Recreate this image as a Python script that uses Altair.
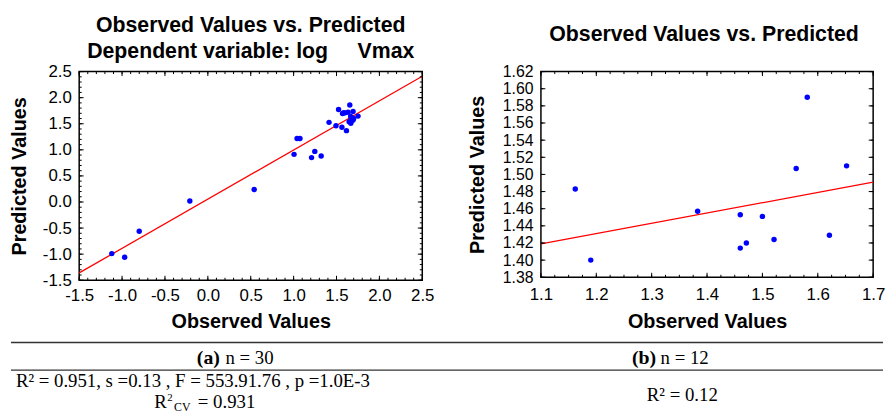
import altair as alt
import pandas as pd

# ---- panel (a) data ----
obs_a = [-1.12, -0.97, -0.80, -0.21, 0.54, 1.005, 1.04, 1.074, 1.209, 1.247,
         1.321, 1.413, 1.494, 1.524, 1.563, 1.57, 1.601, 1.616, 1.635, 1.647,
         1.655, 1.665, 1.667, 1.678, 1.693, 1.693, 1.70, 1.66, 1.751, 1.585]
pred_a = [-0.99, -1.06, -0.56, 0.02, 0.24, 0.913, 1.217, 1.217, 0.851, 0.970,
          0.883, 1.527, 1.463, 1.774, 1.433, 1.698, 1.709, 1.368, 1.72, 1.539,
          1.861, 1.64, 1.509, 1.558, 1.736, 1.571, 1.60, 1.55, 1.647, 1.71]
fit_a_x = [-1.5, 2.5]
fit_a_y = [-1.36, 2.41]

# ---- panel (b) data ----
obs_b = [1.162, 1.19, 1.383, 1.46, 1.46, 1.471, 1.50, 1.521, 1.561, 1.581, 1.621, 1.652]
pred_b = [1.483, 1.400, 1.457, 1.453, 1.414, 1.420, 1.451, 1.424, 1.507, 1.590, 1.429, 1.510]
fit_b_x = [1.1, 1.7]
fit_b_y = [1.419, 1.491]

# ---- tick labels ----
a_ticks = [-1.5, -1.0, -0.5, 0.0, 0.5, 1.0, 1.5, 2.0, 2.5]
a_minor = [round(-1.5 + 0.1 * i, 2) for i in range(41)]
b_x_ticks = [1.1, 1.2, 1.3, 1.4, 1.5, 1.6, 1.7]
b_x_minor = [round(1.1 + 0.025 * i, 3) for i in range(25)]
b_y_ticks = [1.38, 1.40, 1.42, 1.44, 1.46, 1.48, 1.50, 1.52, 1.54, 1.56, 1.58, 1.60, 1.62]

# ---- titles / table text ----
title_a = ["Observed Values vs. Predicted\u00a0\u00a0\u00a0",
           "Dependent variable: log\u00a0\u00a0\u00a0\u00a0\u00a0Vmax"]
title_b = "Observed Values vs. Predicted"
x_title = "Observed Values"
y_title = "Predicted Values"
head_a = ["(a)", "n = 30"]
head_b = ["(b)", "n = 12"]
stats_a = "R\u00b2 = 0.951, s =0.13 , F = 553.91.76 , p =1.0E-3"
stats_cv = ["R", "2", "CV", "= 0.931"]
stats_b = "R\u00b2 = 0.12"

SANS = "Liberation Sans"
SERIF = "Liberation Serif"


def fmt_expr(f):
    return "replace(format(datum.value, '%s'), '\u2212', '-')" % f


def tick_layers(vals, scale, axis, orient, length, W, H, title):
    df = pd.DataFrame({"v": vals})
    base = alt.Chart(df).mark_rule(color="black", strokeWidth=1)
    if orient in ("bottom", "top"):
        enc = dict(x=alt.X("v:Q", scale=scale, axis=axis, title=title))
        if orient == "bottom":
            enc.update(y=alt.value(H), y2=alt.value(H - length))
        else:
            enc.update(y=alt.value(0), y2=alt.value(length))
    else:
        enc = dict(y=alt.Y("v:Q", scale=scale, axis=axis, title=title))
        if orient == "left":
            enc.update(x=alt.value(0), x2=alt.value(length))
        else:
            enc.update(x=alt.value(W), x2=alt.value(W - length))
    return base.encode(**enc)


def panel(obs, pred, fx, fy, xd, yd, xt, yt, xminor, yminor, W, H, xf, yf,
          xlp, xtp, ytp, ylfs):
    xs = alt.Scale(domain=xd, nice=False, zero=False)
    ys = alt.Scale(domain=yd, nice=False, zero=False)
    xaxis = alt.Axis(values=xt, labelExpr=fmt_expr(xf), ticks=False, tickSize=0,
                     domain=False, grid=False, labelPadding=xlp, titlePadding=xtp,
                     labelFlush=False, labelOverlap=False)
    yaxis = alt.Axis(values=yt, labelExpr=fmt_expr(yf), ticks=False, tickSize=0,
                     domain=False, grid=False, labelPadding=8, titlePadding=ytp,
                     labelFlush=False, labelOverlap=False, labelFontSize=ylfs)
    pts = alt.Chart(pd.DataFrame({"o": obs, "p": pred})).mark_circle(
        size=30, color="#0000ff", opacity=1).encode(
        x=alt.X("o:Q", scale=xs, axis=xaxis, title=x_title),
        y=alt.Y("p:Q", scale=ys, axis=yaxis, title=y_title))
    fit = alt.Chart(pd.DataFrame({"o": fx, "p": fy})).mark_line(
        color="#ff0000", strokeWidth=1.3).encode(
        x=alt.X("o:Q", scale=xs, axis=xaxis, title=x_title),
        y=alt.Y("p:Q", scale=ys, axis=yaxis, title=y_title))
    layers = [fit, pts]
    for orient in ("bottom", "top"):
        layers.append(tick_layers(xminor, xs, xaxis, orient, 2.5, W, H, x_title))
        layers.append(tick_layers(xt, xs, xaxis, orient, 4.5, W, H, x_title))
    for orient in ("left", "right"):
        layers.append(tick_layers(yminor, ys, yaxis, orient, 2.5, W, H, y_title))
        layers.append(tick_layers(yt, ys, yaxis, orient, 4.5, W, H, y_title))
    return layers


def txt(s, x, y, size, bold=False, align="left"):
    return alt.Chart(alt.Data(values=[{"t": s}])).mark_text(
        align=align, baseline="alphabetic", font=SERIF, fontSize=size,
        fontWeight="bold" if bold else "normal", color="black").encode(
        text="t:N", x=alt.value(x), y=alt.value(y))


def hline(y):
    return alt.Chart(alt.Data(values=[{"k": 0}])).mark_rule(
        color="#333333", strokeWidth=1.3).encode(
        x=alt.value(-69), x2=alt.value(813), y=alt.value(y))


WA, HA = 347, 211
WB, HB = 336, 208

layers_a = panel(obs_a, pred_a, fit_a_x, fit_a_y, [-1.5, 2.5], [-1.5, 2.5],
                 a_ticks, a_ticks, a_minor, a_minor, WA, HA, ".1f", ".1f", 8, 8, 13, 17)
table = [
    hline(274), hline(302),
    txt(head_a[0], 119, 296, 20, bold=True),
    txt(head_a[1], 148, 296, 19),
    txt(head_b[0], 559, 296, 20, bold=True),
    txt(head_b[1], 588, 296, 19),
    txt(stats_a, 115, 319, 19, align="center"),
    txt(stats_cv[0], 76, 340, 19),
    txt(stats_cv[1], 89, 333, 11),
    txt(stats_cv[2], 96, 343, 12),
    txt(stats_cv[3], 120, 340, 19),
    txt(stats_b, 610, 333, 19, align="center"),
]
chart_a = alt.layer(*layers_a, *table).properties(
    width=WA, height=HA,
    title=alt.TitleParams(text=title_a, lineHeight=27, offset=0))

layers_b = panel(obs_b, pred_b, fit_b_x, fit_b_y, [1.1, 1.7], [1.38, 1.62],
                 b_x_ticks, b_y_ticks, b_x_minor, b_y_ticks, WB, HB, ".1f", ".2f",
                 9, 10, 15, 16)
chart_b = alt.layer(*layers_b).properties(
    width=WB, height=HB,
    title=alt.TitleParams(text=title_b, offset=18, dx=-3))

chart = alt.hconcat(chart_a, chart_b, spacing=120, bounds="flush").properties(
    padding={"left": 0, "top": 3, "right": 0, "bottom": 0}
).configure_view(
    stroke="black", strokeWidth=1.5
).configure_axis(
    labelFont=SANS, labelFontSize=17, labelColor="black",
    titleFont=SANS, titleFontSize=20, titleFontWeight="bold", titleColor="black"
).configure_title(
    font=SANS, fontSize=21.5, fontWeight="bold", color="black", anchor="middle"
)

chart.save("out.html", embed_options={"renderer": "svg", "actions": False})
